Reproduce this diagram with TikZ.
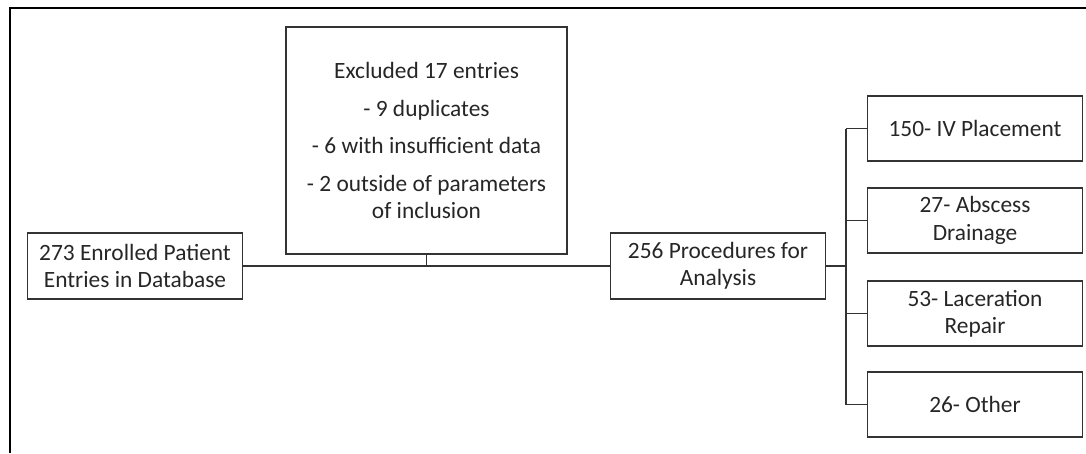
\documentclass[tikz,border=0pt]{standalone}
\usepackage{fontspec}
\setmainfont{Carlito}
\usetikzlibrary{calc}

\begin{document}
\begin{tikzpicture}[
  every node/.style={font=\fontsize{13.3}{15.5}\selectfont, text=black!85},
  box/.style={draw=black!80, line width=1.1pt, align=center, inner sep=2pt},
  wide/.style={box, minimum width=4.30cm, minimum height=1.31cm},
  link/.style={draw=black!80, line width=1.1pt}]

\useasboundingbox (0,0) rectangle (21.72,-9.06);

% ---- frame (only the top and left edges show) ----
\draw[line width=1.7pt] (0.2,-9.06) -- (0.2,-0.16) -- (21.72,-0.16);

% ---- main line ----
\node[wide] (enrolled) at (2.70,-5.32) {273 Enrolled Patient\\Entries in Database};
\node[box, minimum width=5.62cm, minimum height=4.54cm] (excluded) at (8.53,-2.81)
  {Excluded 17 entries\\[6pt] - 9 duplicates\\[6pt] - 6 with insufficient data\\[6pt]
   - 2 outside of parameters\\of inclusion};
\node[wide] (procedures) at (14.36,-5.32) {256 Procedures for\\Analysis};

\draw[link] (enrolled.east) -- (procedures.west);
\draw[link] (excluded.south) -- (excluded.south |- enrolled.east);

% ---- procedure types ----
\node[wide] (iv) at (19.50,-2.57) {150- IV Placement};
\node[wide] (abscess) at (19.50,-4.41) {27- Abscess\\Drainage};
\node[wide] (laceration) at (19.50,-6.27) {53- Laceration\\Repair};
\node[wide] (other) at (19.50,-8.09) {26- Other};

\coordinate (bus) at (16.92,-5.32);
\draw[link, line width=1.4pt] (procedures.east) -- (bus);
\draw[link] (iv.west -| bus) -- (other.west -| bus);
\foreach \n in {iv,abscess,laceration,other}
  \draw[link] (\n.west) -- (\n.west -| bus);

\end{tikzpicture}
\end{document}
